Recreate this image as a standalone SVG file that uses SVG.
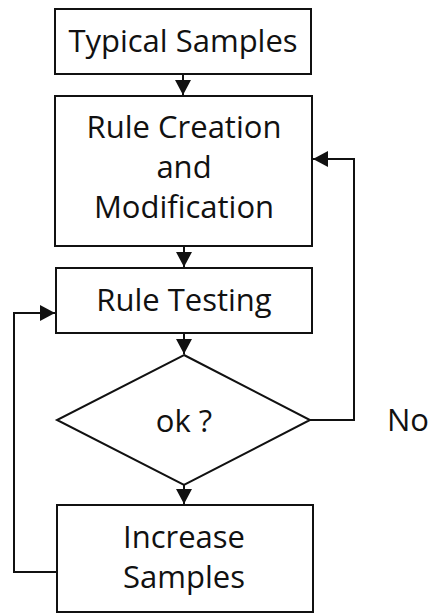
<svg xmlns="http://www.w3.org/2000/svg" width="431" height="614" viewBox="0 0 431 614">
  <style>
    .box { fill: #fff; stroke: #111; stroke-width: 2; }
    .wire { fill: none; stroke: #111; stroke-width: 2; }
    .lbl { font-family: "Open Sans", "Noto Sans", sans-serif; font-size: 31px; fill: #111; text-anchor: middle; }
  </style>
  <defs>
    <marker id="head" viewBox="0 0 15 16" refX="15" refY="8" markerWidth="15" markerHeight="16" markerUnits="userSpaceOnUse" orient="auto">
      <path d="M0,0 L15,8 L0,16 Z" fill="#111"/>
    </marker>
  </defs>
  <rect width="431" height="614" fill="#fff"/>

  <g id="connectors">
    <line class="wire" x1="183" y1="74" x2="183" y2="95" marker-end="url(#head)"/>
    <line class="wire" x1="184" y1="246" x2="184" y2="267" marker-end="url(#head)"/>
    <line class="wire" x1="184" y1="333" x2="184" y2="354" marker-end="url(#head)"/>
    <line class="wire" x1="184" y1="485" x2="184" y2="504" marker-end="url(#head)"/>
    <polyline class="wire" points="310,420 354,420 354,159 313,159" marker-end="url(#head)"/>
    <polyline class="wire" points="57,572 14,572 14,313 55,313" marker-end="url(#head)"/>
  </g>

  <g id="typical-samples">
    <rect class="box" x="55" y="9" width="256" height="65"/>
    <text class="lbl" x="183" y="52">Typical Samples</text>
  </g>

  <g id="rule-creation">
    <rect class="box" x="55" y="96" width="257" height="150"/>
    <text class="lbl" x="184" y="138">Rule Creation</text>
    <text class="lbl" x="184" y="178">and</text>
    <text class="lbl" x="184" y="218">Modification</text>
  </g>

  <g id="rule-testing">
    <rect class="box" x="56" y="268" width="256" height="65"/>
    <text class="lbl" x="184" y="311">Rule Testing</text>
  </g>

  <g id="ok-decision">
    <polygon class="box" points="184,355 310,420 184,485 57,420"/>
    <text class="lbl" x="184" y="432">ok ?</text>
  </g>

  <text class="lbl" x="408" y="431">No</text>

  <g id="increase-samples">
    <rect class="box" x="57" y="505" width="256" height="107"/>
    <text class="lbl" x="184" y="548">Increase</text>
    <text class="lbl" x="184" y="588">Samples</text>
  </g>
</svg>
